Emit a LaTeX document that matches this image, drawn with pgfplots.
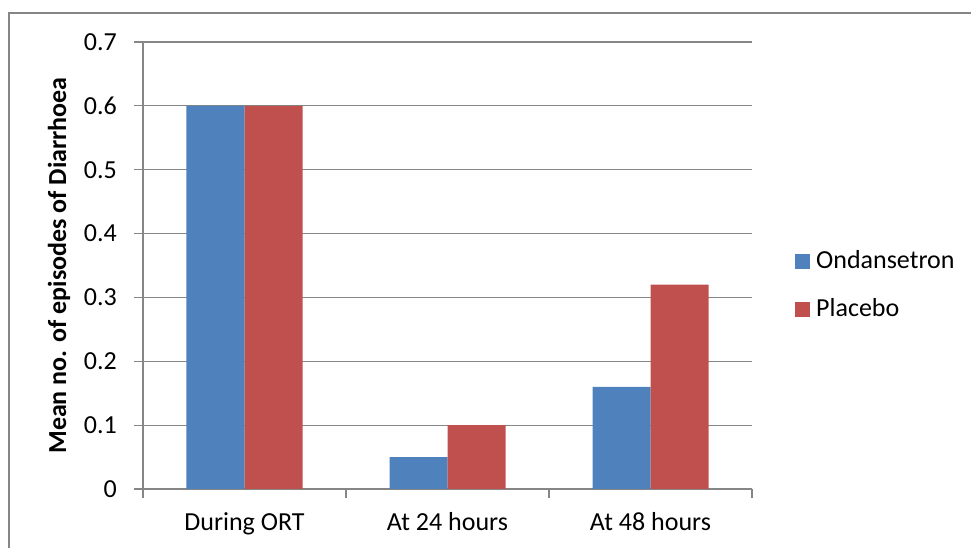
\documentclass[border=0pt]{standalone}
\usepackage{pgfplots}
\pgfplotsset{compat=1.18}
\usepackage{fontspec}
\setmainfont{Carlito}
\definecolor{cblue}{HTML}{4F81BD}
\definecolor{cred}{HTML}{C0504D}
\definecolor{cgray}{HTML}{868686}
\begin{document}
\fontsize{26bp}{31bp}\selectfont
\begin{tikzpicture}
\path[use as bounding box] (0,0) rectangle (971bp,548bp);
\draw[cgray, line width=1.5bp] (9bp,0) -- (9bp,535bp) -- (971bp,535bp);
\begin{axis}[
  at={(143bp,59bp)}, anchor=south west,
  width=609bp, height=447bp, scale only axis,
  xmin=-0.5, xmax=2.5, ymin=0, ymax=0.7,
  ybar=0pt, bar width=58bp,
  axis x line*=bottom, axis y line*=left,
  axis line style={cgray, line width=1.2bp},
  xtick={-0.5,0.5,1.5,2.5}, xticklabels={},
  extra x ticks={0,1,2},
  extra x tick labels={During ORT, At 24 hours, At 48 hours},
  extra x tick style={major tick length=0pt, grid=none},
  ytick={0,0.1,0.2,0.3,0.4,0.5,0.6,0.7},
  yticklabels={0,0.1,0.2,0.3,0.4,0.5,0.6,0.7},
  tick align=outside, major tick length=9bp,
  tick style={cgray, line width=1.2bp},
  ymajorgrids, xmajorgrids=false,
  major grid style={cgray, line width=1.2bp},
  /pgf/number format/assume math mode=true,
  xticklabel style={text height=18bp, text depth=5bp, inner sep=0pt, yshift=-23bp},
  yticklabel style={inner sep=0pt, anchor=east, xshift=-17bp},
  ylabel={\bfseries Mean no. of episodes of Diarrhoea},
  ylabel style={at={(axis description cs:-0.1379,0.5)}, anchor=center, inner sep=0pt},
  legend style={at={(axis description cs:1.0706,0.4545)}, anchor=west, draw=none, fill=none,
    inner sep=0pt, row sep=25bp,
    nodes={inner sep=0pt, text height=18bp, text depth=5bp, anchor=west}},
  legend cell align=left,
]
\addplot[fill=cblue, draw=none, legend image code/.code={\fill[cblue] (0bp,-7.5bp) rectangle (15bp,7.5bp); \path (21bp,0bp);}]
  coordinates {(0,0.6) (1,0.05) (2,0.16)};
\addplot[fill=cred, draw=none, legend image code/.code={\fill[cred] (0bp,-7.5bp) rectangle (15bp,7.5bp); \path (21bp,0bp);}]
  coordinates {(0,0.6) (1,0.10) (2,0.32)};
\legend{Ondansetron, Placebo}
\end{axis}
\end{tikzpicture}
\end{document}
